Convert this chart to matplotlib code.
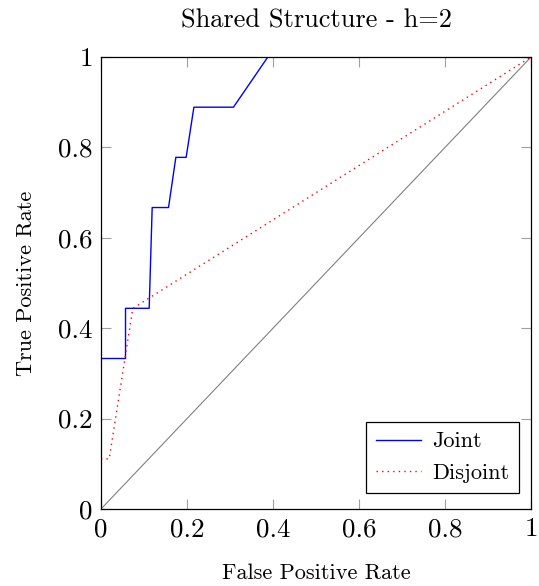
import matplotlib.pyplot as plt

# ROC curves
joint_fpr = [0, 0, 0.057, 0.057, 0.112, 0.119, 0.157, 0.174, 0.198, 0.216, 0.308, 0.388, 1]
joint_tpr = [0, 0.333, 0.333, 0.444, 0.444, 0.667, 0.667, 0.778, 0.778, 0.889, 0.889, 1, 1]

disjoint_fpr = [0, 0, 0.019, 0.074, 1]
disjoint_tpr = [0, 0.111, 0.111, 0.444, 1]

ticks = [0, 0.2, 0.4, 0.6, 0.8, 1]
tick_labels = ['0', '0.2', '0.4', '0.6', '0.8', '1']

plt.rcParams['font.family'] = ['cmr10', 'DejaVu Serif']
plt.rcParams['axes.formatter.use_mathtext'] = True

fig = plt.figure(figsize=(5.39, 5.86), dpi=100)
ax = fig.add_axes([0.1874, 0.1314, 0.7978, 0.7713])

ax.plot([0, 1], [0, 1], color='#808080', lw=0.8)
ax.plot(joint_fpr, joint_tpr, color='blue', lw=1.0, label='Joint')
ax.plot(disjoint_fpr, disjoint_tpr, color='red', lw=1.0, ls=(0, (1, 3)), label='Disjoint')

ax.set_xlim(0, 1)
ax.set_ylim(0, 1)
ax.set_xticks(ticks)
ax.set_xticklabels(tick_labels)
ax.set_yticks(ticks)
ax.set_yticklabels(tick_labels)
ax.tick_params(direction='in', length=7, width=0.8, color='#a0a0a0',
               top=True, right=True, labelsize=19.5, pad=6)
for s in ax.spines.values():
    s.set_linewidth(0.9)

ax.set_title('Shared Structure - h=2', fontsize=19, pad=21)
ax.set_xlabel('False Positive Rate', fontsize=16, labelpad=16)
ax.set_ylabel('True Positive Rate', fontsize=16, labelpad=16)

leg = ax.legend(loc='lower right', bbox_to_anchor=(0.972, 0.035), fontsize=16,
                fancybox=False, framealpha=1, edgecolor='black',
                borderaxespad=0, handlelength=2.0, handletextpad=0.5,
                borderpad=0.45, labelspacing=0.55)
leg.get_frame().set_linewidth(0.9)

fig.savefig('out.png', dpi=100)
